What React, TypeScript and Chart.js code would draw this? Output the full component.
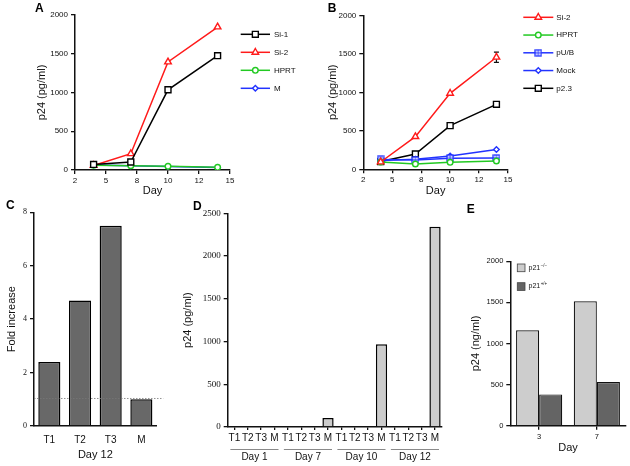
import React, { useEffect, useRef } from 'react';
import { Chart, registerables } from 'chart.js';
import { drawPoint } from 'chart.js/helpers';

Chart.register(...registerables);

// ---------- DATA ----------
// Panels A & B (line charts)
const lineDays = [4, 7, 10, 14];
const lineTickValues = [2.5, 5, 7.5, 10, 12.5, 15];
const lineTickLabels = ['2', '5', '8', '10', '12', '15'];

const aSi1 = [72, 103, 1035, 1475];
const aSi2 = [58, 210, 1394, 1845];
const aHPRT = [62, 56, 47, 34];
const aM = [66, 54, 46, 32];

const bSi2 = [95, 424, 987, 1455];
const bSi2Err = [0, 0, 0, 67];
const bHPRT = [95, 69, 91, 108];
const bPUB = [128, 121, 143, 147];
const bMock = [115, 130, 172, 258];
const bP23 = [100, 199, 567, 844];

// Panel C
const cCategories = ['T1', 'T2', 'T3', 'M'];
const cFold = [2.4, 4.7, 7.5, 1.0];
const cReference = 1.03;

// Panel D
const dCategories = ['T1', 'T2', 'T3', 'M', 'T1', 'T2', 'T3', 'M', 'T1', 'T2', 'T3', 'M', 'T1', 'T2', 'T3', 'M'];
const dGroups = ['Day 1', 'Day 7', 'Day 10', 'Day 12'];
const dValues = [0, 0, 0, 0, 0, 0, 0, 105, 0, 0, 0, 967, 0, 0, 0, 2344];

// Panel E
const eDays = ['3', '7'];
const eSeriesBase = ['p21', 'p21'];
const eSeriesSup = ['\u2212/\u2212', '+/+'];
const eKO = [1160, 1513];
const eWT = [381, 531];

// ---------- STYLE ----------
const SANS = '"Liberation Sans", Arial, Helvetica, sans-serif';
const SERIF = '"Liberation Serif", "Times New Roman", serif';
const INK = '#111';
const RED = '#ff1a1a';
const GREEN = '#22c922';
const BLUE = '#2233ff';

const plainNumber = (v: any) => `${v}`;

function tickGrid(len: number, offset?: boolean) {
  const g: any = { display: true, drawOnChartArea: false, drawTicks: true, tickLength: len, color: INK, lineWidth: 1.3 };
  if (offset !== undefined) g.offset = offset;
  return g;
}
const noGrid = { display: false, drawTicks: false, tickLength: 0 };
const border = { display: true, color: INK, width: 1.5 };

function makeSquareCross(color: string) {
  const c = document.createElement('canvas');
  c.width = 8;
  c.height = 8;
  const g = c.getContext('2d')!;
  g.fillStyle = '#fff';
  g.fillRect(1, 1, 6, 6);
  g.strokeStyle = color;
  g.lineWidth = 1.3;
  g.strokeRect(1, 1, 6, 6);
  g.beginPath();
  g.moveTo(4, 1);
  g.lineTo(4, 7);
  g.moveTo(1, 4);
  g.lineTo(7, 4);
  g.lineWidth = 1;
  g.stroke();
  return c;
}

function lineDataset(label: string, values: number[], color: string, style: any, radius: number) {
  return {
    label,
    data: lineDays.map((d, i) => ({ x: d, y: values[i] })),
    borderColor: color,
    backgroundColor: color,
    borderWidth: 1.5,
    pointStyle: style,
    pointRadius: radius,
    pointBorderWidth: 1.4,
    pointBackgroundColor: '#fff',
    pointBorderColor: color,
    tension: 0,
    fill: false,
  };
}

const lineLegendPlugin = {
  id: 'lineLegend',
  afterDraw(chart: any, _args: any, opts: any) {
    const ctx = chart.ctx;
    chart.data.datasets.forEach((ds: any, i: number) => {
      const y = opts.y0 + i * opts.dy;
      ctx.save();
      ctx.strokeStyle = ds.borderColor;
      ctx.lineWidth = 1.5;
      ctx.beginPath();
      ctx.moveTo(opts.x0, y);
      ctx.lineTo(opts.x1, y);
      ctx.stroke();
      ctx.fillStyle = '#fff';
      ctx.lineWidth = 1.4;
      drawPoint(ctx, { pointStyle: ds.pointStyle, radius: ds.pointRadius, borderWidth: 1.4, rotation: 0 } as any, (opts.x0 + opts.x1) / 2, y);
      ctx.fillStyle = INK;
      ctx.font = `8px ${SANS}`;
      ctx.textBaseline = 'middle';
      ctx.textAlign = 'left';
      ctx.fillText(ds.label, opts.textX, y);
      ctx.restore();
    });
  },
};

const errorBarPlugin = {
  id: 'errorBars',
  beforeDatasetsDraw(chart: any, _args: any, opts: any) {
    if (!opts || !opts.errors) return;
    const ctx = chart.ctx;
    const xs = chart.scales.x;
    const ys = chart.scales.y;
    const ds = chart.data.datasets[opts.datasetIndex];
    ctx.save();
    ctx.strokeStyle = INK;
    ctx.lineWidth = 1.2;
    ds.data.forEach((p: any, i: number) => {
      const e = opts.errors[i];
      if (!e) return;
      const x = xs.getPixelForValue(p.x);
      const yt = ys.getPixelForValue(p.y + e);
      const yb = ys.getPixelForValue(p.y - e);
      ctx.beginPath();
      ctx.moveTo(x, yt);
      ctx.lineTo(x, yb);
      ctx.moveTo(x - 2.5, yt);
      ctx.lineTo(x + 2.5, yt);
      ctx.moveTo(x - 2.5, yb);
      ctx.lineTo(x + 2.5, yb);
      ctx.stroke();
    });
    ctx.restore();
  },
};

const refLinePlugin = {
  id: 'refLine',
  afterDatasetsDraw(chart: any, _args: any, opts: any) {
    if (!opts || opts.value === undefined) return;
    const ctx = chart.ctx;
    const y = chart.scales.y.getPixelForValue(opts.value);
    ctx.save();
    ctx.strokeStyle = '#777';
    ctx.lineWidth = 0.8;
    ctx.setLineDash([1.5, 1.5]);
    ctx.beginPath();
    ctx.moveTo(chart.chartArea.left, y);
    ctx.lineTo(chart.chartArea.right + opts.extend, y);
    ctx.stroke();
    ctx.restore();
  },
};

const groupLabelPlugin = {
  id: 'groupLabels',
  afterDraw(chart: any, _args: any, opts: any) {
    if (!opts || !opts.labels) return;
    const ctx = chart.ctx;
    const xs = chart.scales.x;
    const base = chart.chartArea.bottom;
    ctx.save();
    opts.labels.forEach((lab: string, g: number) => {
      const a = xs.getPixelForValue(g * opts.size);
      const b = xs.getPixelForValue(g * opts.size + opts.size - 1);
      ctx.strokeStyle = '#8a8a8a';
      ctx.lineWidth = 1;
      ctx.beginPath();
      ctx.moveTo(a - 4, base + opts.lineOffset);
      ctx.lineTo(b + 4, base + opts.lineOffset);
      ctx.stroke();
      ctx.fillStyle = INK;
      ctx.font = `10px ${SANS}`;
      ctx.textAlign = 'center';
      ctx.textBaseline = 'alphabetic';
      ctx.fillText(lab, (a + b) / 2, base + opts.textOffset);
    });
    ctx.restore();
  },
};

const boxLegendPlugin = {
  id: 'boxLegend',
  afterDraw(chart: any, _args: any, opts: any) {
    if (!opts || !opts.display) return;
    const ctx = chart.ctx;
    const { left, top } = chart.chartArea;
    chart.data.datasets.forEach((ds: any, i: number) => {
      const bx = left + opts.dx;
      const by = top + opts.dy + i * opts.step;
      ctx.save();
      ctx.fillStyle = ds.backgroundColor;
      ctx.fillRect(bx, by, opts.size, opts.size);
      ctx.strokeStyle = '#444';
      ctx.lineWidth = 0.8;
      ctx.strokeRect(bx, by, opts.size, opts.size);
      ctx.fillStyle = INK;
      ctx.textAlign = 'left';
      ctx.textBaseline = 'middle';
      ctx.font = `7px ${SANS}`;
      const tx = bx + opts.size + 3.5;
      const ty = by + opts.size / 2;
      ctx.fillText(eSeriesBase[i], tx, ty);
      const w = ctx.measureText(eSeriesBase[i]).width;
      ctx.font = `4.5px ${SANS}`;
      ctx.fillText(eSeriesSup[i], tx + w + 0.5, ty - 2.5);
      ctx.restore();
    });
  },
};

function lineOptions(p: { padRight: number; top: number; yWidth: number; xHeight: number; yTitlePad: number; legend: any; errors?: any }) {
  return {
    responsive: false,
    animation: false,
    events: [],
    layout: { padding: { left: 0, top: p.top, right: p.padRight, bottom: 0 } },
    plugins: {
      legend: { display: false },
      tooltip: { enabled: false },
      lineLegend: p.legend,
      errorBars: p.errors || {},
    },
    scales: {
      x: {
        type: 'linear',
        min: 2.5,
        max: 15,
        afterBuildTicks: (s: any) => {
          s.ticks = lineTickValues.map((v) => ({ value: v }));
        },
        ticks: {
          callback: (_v: any, i: number) => lineTickLabels[i] ?? '',
          font: { family: SANS, size: 8 },
          color: INK,
          padding: 2,
          maxRotation: 0,
          autoSkip: false,
        },
        grid: tickGrid(4),
        border,
        title: { display: true, text: 'Day', color: INK, font: { family: SANS, size: 11 }, padding: { top: 0, bottom: 2.4 } },
        afterFit: (s: any) => {
          s.height = p.xHeight;
        },
      },
      y: {
        min: 0,
        max: 2000,
        ticks: { stepSize: 500, callback: plainNumber, font: { family: SANS, size: 8 }, color: INK, padding: 3 },
        grid: tickGrid(4),
        border,
        title: { display: true, text: 'p24 (pg/ml)', color: INK, font: { family: SANS, size: 11 }, padding: { top: p.yTitlePad, bottom: 0 } },
        afterFit: (s: any) => {
          s.width = p.yWidth;
        },
      },
    },
  };
}

function configA(): any {
  return {
    type: 'line',
    data: {
      datasets: [
        lineDataset('Si-1', aSi1, '#000', 'rect', 4.2),
        lineDataset('Si-2', aSi2, RED, 'triangle', 3.8),
        lineDataset('HPRT', aHPRT, GREEN, 'circle', 2.8),
        lineDataset('M', aM, BLUE, 'rectRot', 2.8),
      ],
    },
    options: lineOptions({
      padRight: 85,
      top: 15,
      yWidth: 75,
      xHeight: 30,
      yTitlePad: 35.4,
      legend: { x0: 240.7, x1: 270, textX: 274, y0: 34.3, dy: 18 },
    }),
    plugins: [lineLegendPlugin],
  };
}

function configB(): any {
  return {
    type: 'line',
    data: {
      datasets: [
        lineDataset('Si-2', bSi2, RED, 'triangle', 3.8),
        lineDataset('HPRT', bHPRT, GREEN, 'circle', 2.8),
        lineDataset('pU/B', bPUB, BLUE, makeSquareCross(BLUE), 3.5),
        lineDataset('Mock', bMock, BLUE, 'rectRot', 2.8),
        lineDataset('p2.3', bP23, '#000', 'rect', 4.2),
      ],
    },
    options: lineOptions({
      padRight: 122,
      top: 15.3,
      yWidth: 48.3,
      xHeight: 30.7,
      yTitlePad: 11.4,
      legend: { x0: 208.3, x1: 238.3, textX: 241.3, y0: 17.3, dy: 17.75 },
      errors: { datasetIndex: 0, errors: bSi2Err },
    }),
    plugins: [lineLegendPlugin, errorBarPlugin],
  };
}

function configC(): any {
  return {
    type: 'bar',
    data: {
      labels: cCategories,
      datasets: [
        {
          data: cFold,
          backgroundColor: '#686868',
          borderColor: '#000',
          borderWidth: 1.5,
          barPercentage: 0.72,
          categoryPercentage: 1,
        },
      ],
    },
    options: {
      responsive: false,
      animation: false,
      events: [],
      layout: { padding: { left: 0, top: 12.3, right: 28.3, bottom: 0 } },
      plugins: { legend: { display: false }, tooltip: { enabled: false }, refLine: { value: cReference, extend: 6.5 } },
      scales: {
        x: {
          grid: noGrid,
          border,
          ticks: { font: { family: SANS, size: 10 }, color: INK, padding: 8, maxRotation: 0, autoSkip: false },
          title: { display: true, text: 'Day 12', color: INK, font: { family: SANS, size: 11 }, padding: { top: 0, bottom: 4.9 } },
          afterFit: (s: any) => {
            s.height = 40;
          },
        },
        y: {
          min: 0,
          max: 8,
          ticks: { stepSize: 2, callback: plainNumber, font: { family: SERIF, size: 8 }, color: INK, padding: 3 },
          grid: tickGrid(4),
          border,
          title: { display: true, text: 'Fold increase', color: INK, font: { family: SANS, size: 11 }, padding: { top: 4.9, bottom: 0 } },
          afterFit: (s: any) => {
            s.width = 34;
          },
        },
      },
    },
    plugins: [refLinePlugin],
  };
}

function configD(): any {
  return {
    type: 'bar',
    data: {
      labels: dCategories,
      datasets: [
        {
          data: dValues,
          backgroundColor: '#cccccc',
          borderColor: '#000',
          borderWidth: 1.5,
          barPercentage: 0.84,
          categoryPercentage: 1,
        },
      ],
    },
    options: {
      responsive: false,
      animation: false,
      events: [],
      layout: { padding: { left: 0, top: 13.3, right: 13.3, bottom: 0 } },
      plugins: {
        legend: { display: false },
        tooltip: { enabled: false },
        groupLabels: { labels: dGroups, size: 4, lineOffset: 22.5, textOffset: 33 },
      },
      scales: {
        x: {
          grid: tickGrid(3, false),
          border,
          ticks: { font: { family: SANS, size: 10 }, color: INK, padding: 2, maxRotation: 0, autoSkip: false },
          afterFit: (s: any) => {
            s.height = 39;
          },
        },
        y: {
          min: 0,
          max: 2500,
          ticks: { stepSize: 500, callback: plainNumber, font: { family: SERIF, size: 9 }, color: INK, padding: 3 },
          grid: tickGrid(4),
          border,
          title: { display: true, text: 'p24 (pg/ml)', color: INK, font: { family: SANS, size: 11 }, padding: { top: 6.4, bottom: 0 } },
          afterFit: (s: any) => {
            s.width = 52.7;
          },
        },
      },
    },
    plugins: [groupLabelPlugin],
  };
}

function configE(): any {
  return {
    type: 'bar',
    data: {
      labels: eDays,
      datasets: [
        { label: 'p21-/-', data: eKO, backgroundColor: '#cdcdcd', borderColor: '#111', borderWidth: 1.2, barPercentage: 1, categoryPercentage: 0.8 },
        { label: 'p21+/+', data: eWT, backgroundColor: '#646464', borderColor: '#111', borderWidth: 1.2, barPercentage: 1, categoryPercentage: 0.8 },
      ],
    },
    options: {
      responsive: false,
      animation: false,
      events: [],
      layout: { padding: { left: 0, top: 61.3, right: 4.3, bottom: 0 } },
      plugins: {
        legend: { display: false },
        tooltip: { enabled: false },
        boxLegend: { display: true, dx: 7, dy: 2.7, step: 18.7, size: 7.7 },
      },
      scales: {
        x: {
          grid: tickGrid(4, false),
          border,
          ticks: { font: { family: SANS, size: 7.5 }, color: INK, padding: 3, maxRotation: 0 },
          title: { display: true, text: 'Day', color: INK, font: { family: SANS, size: 11 }, padding: { top: 0, bottom: 11.4 } },
          afterFit: (s: any) => {
            s.height = 40.3;
          },
        },
        y: {
          min: 0,
          max: 2000,
          ticks: { stepSize: 500, callback: plainNumber, font: { family: SANS, size: 7.5 }, color: INK, padding: 3 },
          grid: tickGrid(4),
          border,
          title: { display: true, text: 'p24 (ng/ml)', color: INK, font: { family: SANS, size: 11 }, padding: { top: 13.9, bottom: 0 } },
          afterFit: (s: any) => {
            s.width = 55.3;
          },
        },
      },
    },
    plugins: [boxLegendPlugin],
  };
}

type PanelProps = { left: number; top: number; width: number; height: number; make: () => any };

function ChartPanel({ left, top, width, height, make }: PanelProps) {
  const ref = useRef<HTMLCanvasElement>(null);
  useEffect(() => {
    if (!ref.current) return;
    const chart = new Chart(ref.current, make());
    return () => chart.destroy();
  }, []);
  return (
    <canvas
      ref={ref}
      width={width}
      height={height}
      style={{ position: 'absolute', left, top, width, height, display: 'block' }}
    />
  );
}

const letterStyle: React.CSSProperties = {
  position: 'absolute',
  fontFamily: SANS,
  fontWeight: 'bold',
  fontSize: 12,
  lineHeight: '12px',
  color: '#000',
  margin: 0,
};

export default function App() {
  return (
    <div style={{ position: 'fixed', left: 0, top: 0, width: 630, height: 466, background: '#fff', overflow: 'hidden' }}>
      <ChartPanel left={0} top={0} width={315} height={200} make={configA} />
      <ChartPanel left={315} top={0} width={315} height={200} make={configB} />
      <ChartPanel left={0} top={200} width={185} height={266} make={configC} />
      <ChartPanel left={175} top={200} width={280} height={266} make={configD} />
      <ChartPanel left={455} top={200} width={175} height={266} make={configE} />
      <div style={{ ...letterStyle, left: 35, top: 1.7 }}>A</div>
      <div style={{ ...letterStyle, left: 327.7, top: 1.7 }}>B</div>
      <div style={{ ...letterStyle, left: 6, top: 199.1 }}>C</div>
      <div style={{ ...letterStyle, left: 193, top: 199.5 }}>D</div>
      <div style={{ ...letterStyle, left: 466.7, top: 203.4 }}>E</div>
    </div>
  );
}
